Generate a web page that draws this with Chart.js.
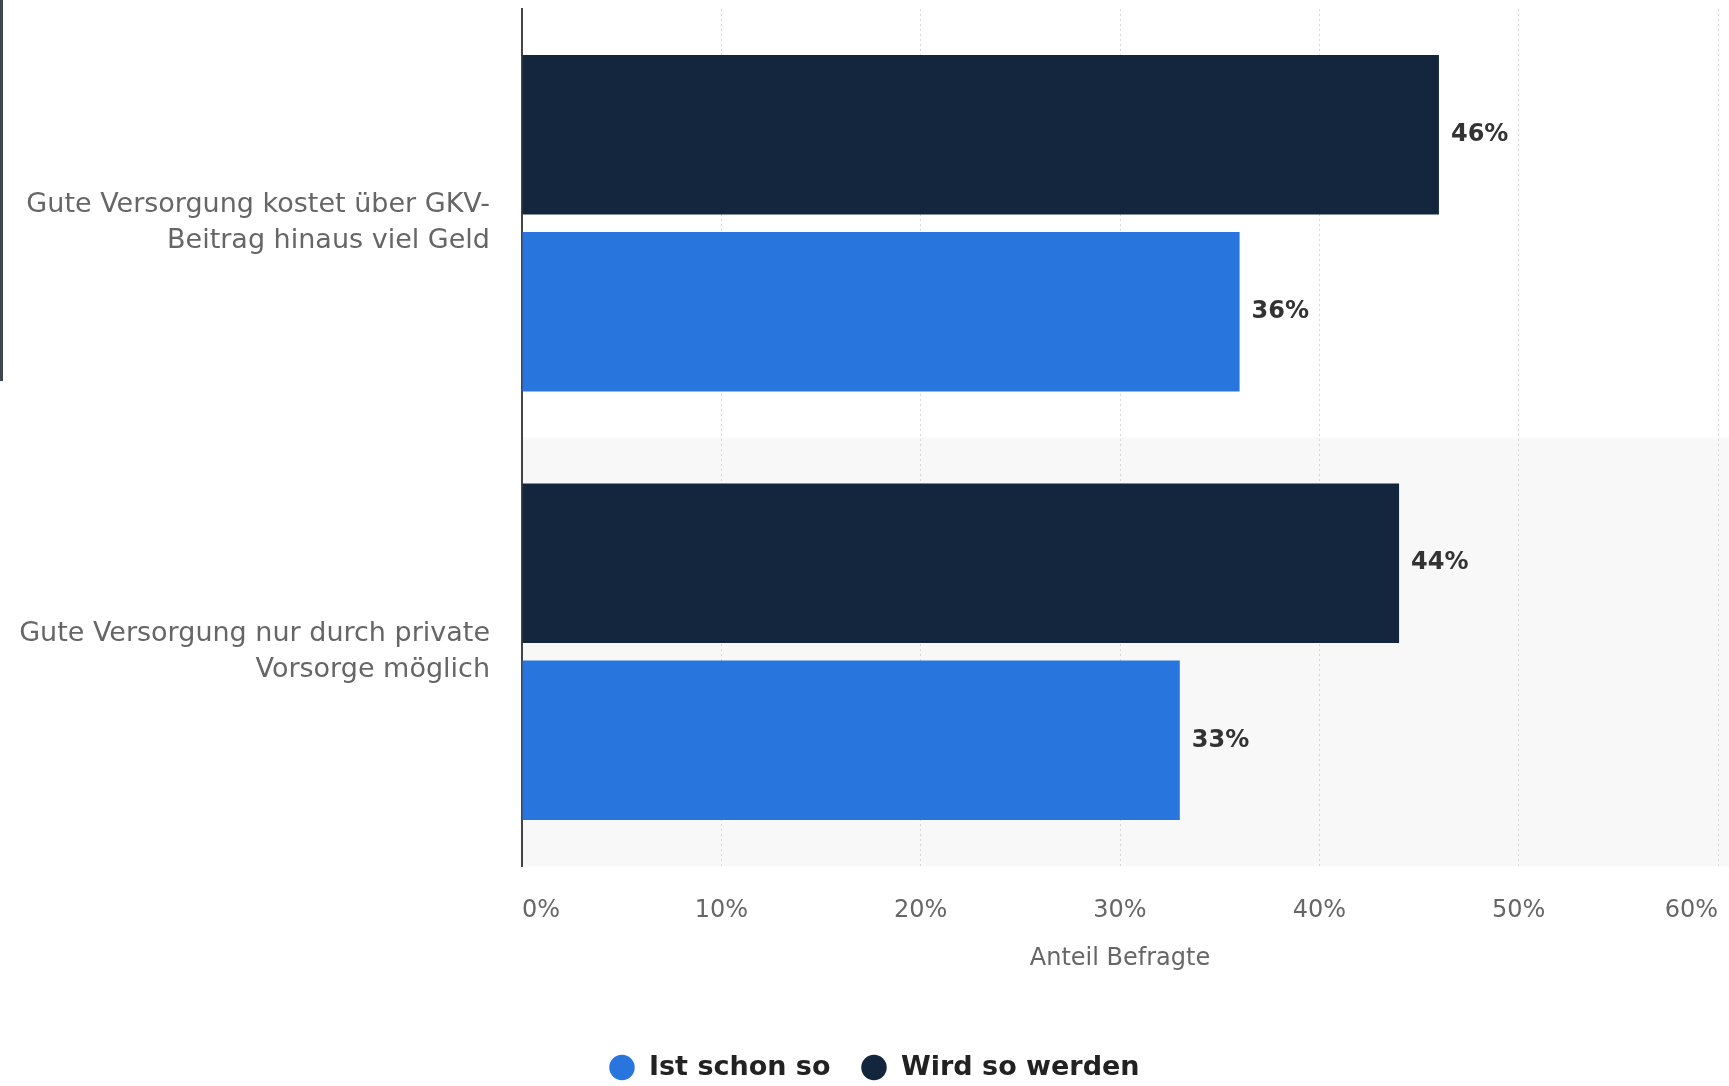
<!DOCTYPE html>
<html lang="de">
<head>
<meta charset="utf-8">
<title>Gute Versorgung</title>
<script src="https://cdn.jsdelivr.net/npm/chart.js@4/dist/chart.umd.min.js"></script>
<style>
  html, body { margin: 0; padding: 0; background: #fff; }
  #wrap { position: relative; width: 1729px; height: 1086px; }
  #edge { position: absolute; left: 0; top: 0; width: 3px; height: 381px; background: #3e4654; }
</style>
</head>
<body>
<div id="wrap">
  <canvas id="chart" width="1729" height="1086"></canvas>
  <div id="edge"></div>
</div>
<script>
// Categories and values (share of respondents, %)
const categories = [
  ['Gute Versorgung kostet über GKV-', 'Beitrag hinaus viel Geld'],
  ['Gute Versorgung nur durch private', 'Vorsorge möglich']
];
const seriesNames = ['Wird so werden', 'Ist schon so'];
const wirdSoWerden = [46, 44];
const istSchonSo = [36, 33];
const xTicks = [0, 10, 20, 30, 40, 50, 60];

const DARK = '#13263d';
const BLUE = '#2876dd';

// light grey band behind the second category
const bandPlugin = {
  id: 'band',
  afterLayout(chart) {
    // let the long category labels use the left margin too
    chart.scales.y.left = 0;
  },
  beforeDraw(chart) {
    const { ctx, chartArea, scales } = chart;
    const top = scales.y.getPixelForValue(0.5);
    ctx.save();
    ctx.fillStyle = '#f8f8f8';
    ctx.fillRect(chartArea.left, top, chart.width - chartArea.left, chartArea.bottom - top);
    ctx.restore();
  }
};

// value labels right of each bar
const valueLabels = {
  id: 'valueLabels',
  afterDatasetsDraw(chart) {
    const ctx = chart.ctx;
    ctx.save();
    ctx.font = 'bold 24px "DejaVu Sans"';
    ctx.fillStyle = '#333';
    ctx.textAlign = 'left';
    ctx.textBaseline = 'middle';
    chart.data.datasets.forEach((ds, i) => {
      chart.getDatasetMeta(i).data.forEach((bar, j) => {
        ctx.fillText(ds.data[j] + '%', bar.x + 12, bar.y);
      });
    });
    ctx.restore();
  }
};

new Chart(document.getElementById('chart'), {
  type: 'bar',
  data: {
    labels: categories,
    datasets: [
      { label: seriesNames[0], data: wirdSoWerden, backgroundColor: DARK },
      { label: seriesNames[1], data: istSchonSo, backgroundColor: BLUE }
    ]
  },
  options: {
    indexAxis: 'y',
    responsive: false,
    animation: false,
    categoryPercentage: 0.827,
    barPercentage: 0.9,
    layout: { padding: { top: 9, right: 11, left: 30, bottom: -5 } },
    scales: {
      x: {
        min: 0,
        max: 60,
        afterBuildTicks: scale => { scale.ticks = xTicks.map(v => ({ value: v })); },
        afterFit: scale => {
          scale.paddingLeft = 0;
          scale.paddingRight = 0;
          scale.height = 158;
        },
        ticks: {
          align: 'inner',
          padding: 30,
          color: '#666',
          font: { family: 'DejaVu Sans', size: 24 },
          callback: v => v + '%'
        },
        grid: { color: '#d6d6d6', lineWidth: 1, drawTicks: false },
        border: { display: false, dash: [2, 3] },
        title: {
          display: true,
          text: 'Anteil Befragte',
          color: '#666',
          font: { family: 'DejaVu Sans', size: 24 },
          padding: { top: 0, bottom: 51 }
        }
      },
      y: {
        afterFit: scale => {
          scale.width = 492;
          scale.paddingTop = 0;
          scale.paddingBottom = 0;
        },
        ticks: {
          padding: 32,
          color: '#666',
          font: { family: 'DejaVu Sans', size: 27, lineHeight: 1.35 }
        },
        grid: { display: false, drawTicks: false },
        border: { display: true, color: '#444', width: 2 }
      }
    },
    plugins: {
      legend: {
        position: 'bottom',
        reverse: true,
        labels: {
          usePointStyle: true,
          pointStyle: 'circle',
          boxHeight: 18,
          padding: 30,
          color: '#222',
          font: { family: 'DejaVu Sans', size: 27, weight: 'bold' }
        }
      },
      tooltip: { enabled: false }
    }
  },
  plugins: [bandPlugin, valueLabels]
});
</script>
</body>
</html>
